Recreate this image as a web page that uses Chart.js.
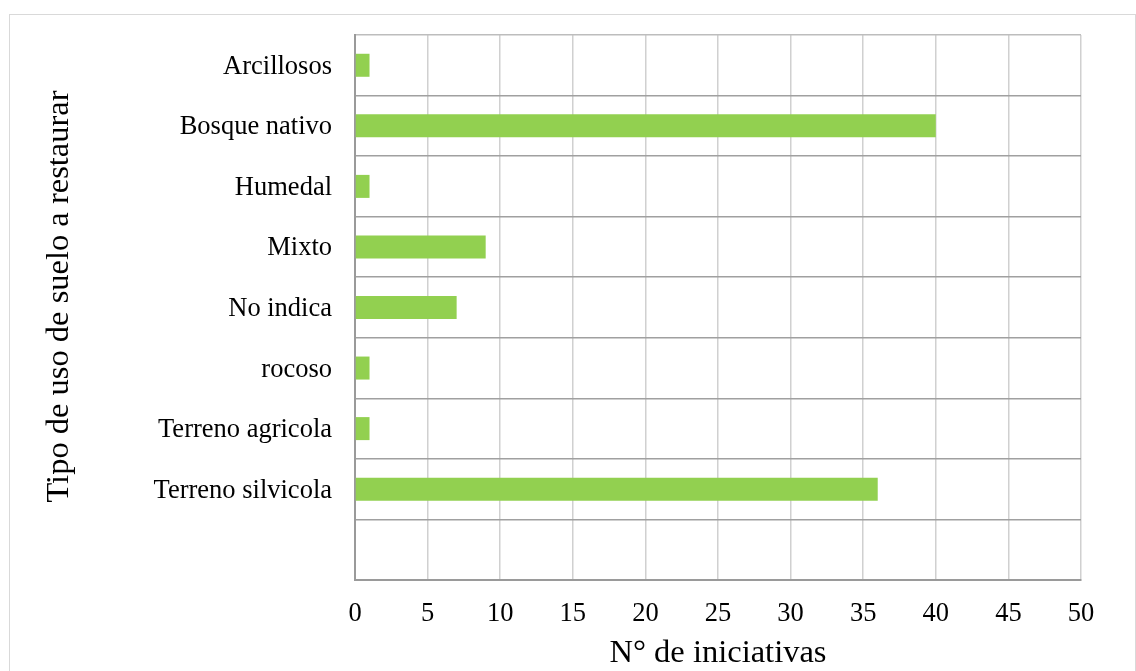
<!DOCTYPE html>
<html>
<head>
<meta charset="utf-8">
<script src="https://cdn.jsdelivr.net/npm/chart.js@4/dist/chart.umd.min.js"></script>
<style>
  html, body { margin: 0; padding: 0; background: #ffffff; }
  #wrap { position: relative; width: 1136px; height: 671px; overflow: hidden; }
  #frame { position: absolute; left: 9px; top: 14px; width: 1125px; height: 700px; border: 1px solid #d9d9d9; }
  #c { position: absolute; left: 0; top: 0; }
</style>
</head>
<body>
<div id="wrap">
  <div id="frame"></div>
  <canvas id="c" width="1136" height="671"></canvas>
</div>
<script>
// Land-use types to restore and number of initiatives for each
const categories = [
  'Arcillosos',
  'Bosque nativo',
  'Humedal',
  'Mixto',
  'No indica',
  'rocoso',
  'Terreno agricola',
  'Terreno silvicola',
  ''
];
const iniciativas = [1, 40, 1, 9, 7, 1, 1, 36, null];
const xTicks = [0, 5, 10, 15, 20, 25, 30, 35, 40, 45, 50];
const yTitle = 'Tipo de uso de suelo a restaurar';
const xTitle = 'N° de iniciativas';

const serif = "'Liberation Serif', 'Times New Roman', serif";
const titleSize = 32.5;

// Vertical axis title, drawn a little above the plot's middle
const yTitlePlugin = {
  id: 'yTitle',
  afterDraw(chart) {
    const { ctx, chartArea } = chart;
    const lh = titleSize * 1.2;
    ctx.save();
    ctx.font = titleSize + 'px ' + serif;
    ctx.fillStyle = '#000';
    ctx.textAlign = 'center';
    ctx.textBaseline = 'middle';
    ctx.translate(41 + lh / 2 - 1, (chartArea.top + chartArea.bottom) / 2 - 11);
    ctx.rotate(-Math.PI / 2);
    ctx.fillText(yTitle, 0, 0);
    ctx.restore();
  }
};

new Chart(document.getElementById('c'), {
  type: 'bar',
  data: {
    labels: categories,
    datasets: [{
      data: iniciativas,
      backgroundColor: '#92d050',
      borderWidth: 0,
      categoryPercentage: 1,
      barPercentage: 0.38
    }]
  },
  plugins: [yTitlePlugin],
  options: {
    indexAxis: 'y',
    responsive: false,
    animation: false,
    layout: { padding: { left: 0, top: 35, right: 55, bottom: 0 } },
    plugins: { legend: { display: false }, tooltip: { enabled: false } },
    scales: {
      x: {
        min: 0,
        max: 50,
        afterBuildTicks: (s) => { s.ticks = xTicks.map(v => ({ value: v })); },
        afterFit: (s) => { s.height = 91; s.paddingLeft = 0; s.paddingRight = 0; },
        grid: { color: '#d0d0d0', lineWidth: 1.5, drawTicks: false },
        border: { color: '#9a9a9a', width: 2 },
        ticks: { color: '#000', padding: 18, font: { family: serif, size: 26.5 } },
        title: {
          display: true,
          text: xTitle,
          color: '#000',
          font: { family: serif, size: titleSize },
          padding: { top: 0, bottom: -1.5 }
        }
      },
      y: {
        afterFit: (s) => { s.width = 355; s.paddingTop = 0; s.paddingBottom = 0; },
        grid: {
          color: (c) => (c.index === 0 ? '#bdbdbd' : '#a0a0a0'),
          lineWidth: 1.5,
          drawTicks: false,
          offset: true
        },
        border: { color: '#9a9a9a', width: 2 },
        ticks: { color: '#000', padding: 23, labelOffset: 1.5, font: { family: serif, size: 26.5 } }
      }
    }
  }
});
</script>
</body>
</html>
